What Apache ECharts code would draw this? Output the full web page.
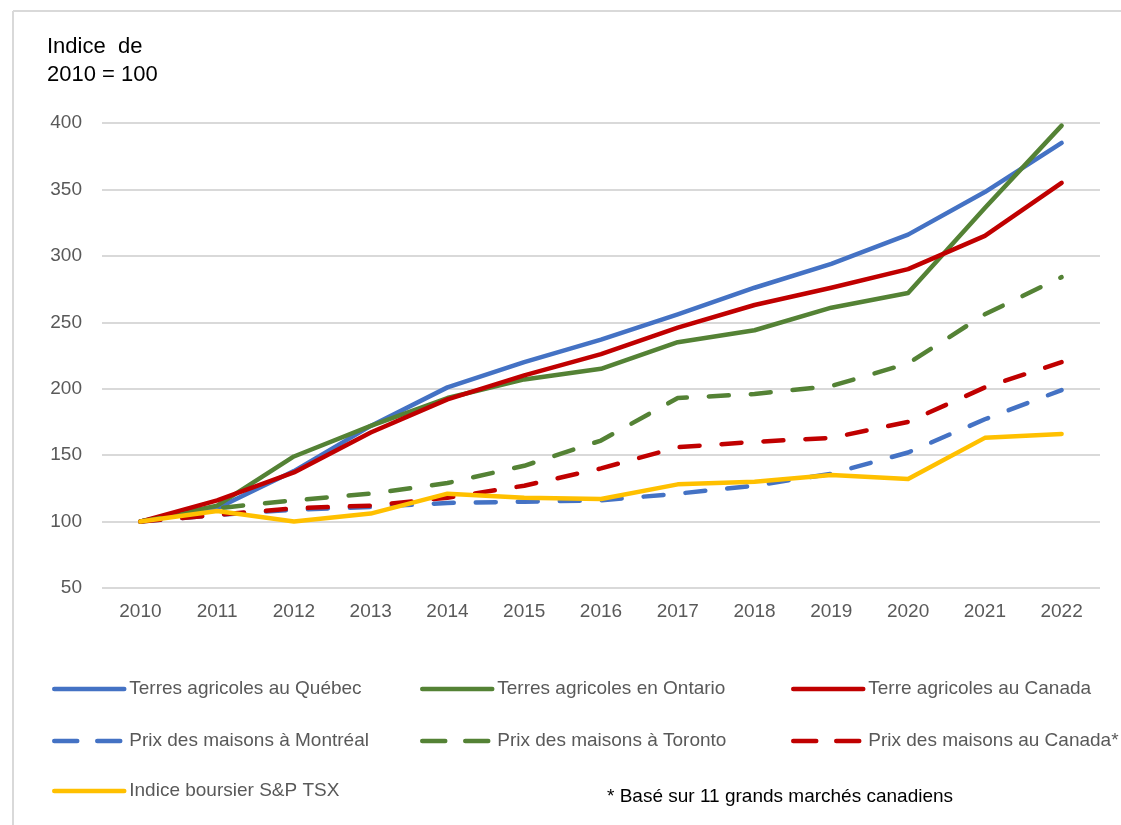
<!DOCTYPE html>
<html>
<head>
<meta charset="utf-8">
<script src="https://cdn.jsdelivr.net/npm/echarts@6/dist/echarts.min.js"></script>
<style>
html,body{margin:0;padding:0;background:#fff;}
#chart{width:1121px;height:825px;}
</style>
</head>
<body>
<div id="chart"></div>
<script>
const years = ['2010','2011','2012','2013','2014','2015','2016','2017','2018','2019','2020','2021','2022'];
const yTicks = [50, 400, 50]; // min, max, interval

const terresQuebec   = [100,110,138,172,201,220,237,256,276,294,316,348,385];
const terresOntario  = [100,112,149,172,193,207,215,235,244,261,272,336,398];
const terresCanada   = [100,116,137,167,192,210,226,246,263,276,290,315,355];
const maisonsMontreal= [100,105,109,111,114,115,116,121,127,136,152,177,199];
const maisonsToronto = [100,110,116,121,129,142,161,193,196,202,219,256,284];
const maisonsCanada  = [100,105,110,112,118,127,140,156,160,163,175,201,220];
const tsx            = [100,108,100,106,121,118,117,128,130,135,132,163,166];

const names = [
  'Terres agricoles au Québec',
  'Terres agricoles en Ontario',
  'Terre agricoles au Canada',
  'Prix des maisons à Montréal',
  'Prix des maisons à Toronto',
  'Prix des maisons au Canada*',
  'Indice boursier S&P TSX'
];
const colors = ['#4472C4','#548235','#C00000','#4472C4','#548235','#C00000','#FFC000'];
const dashed = [false,false,false,true,true,true,false];
const values = [terresQuebec,terresOntario,terresCanada,maisonsMontreal,maisonsToronto,maisonsCanada,tsx];

const FONT = 'Liberation Sans, Arial, sans-serif';

const series = names.map((n,i)=>({
  name:n, type:'line', data:values[i], symbol:'none', showSymbol:false, smooth:false,
  color:colors[i],
  lineStyle:{color:colors[i], width:4.5, type: dashed[i] ? [20,22] : 'solid', cap:'round', join:'round'},
  emphasis:{disabled:true}
}));

// legend placement (col x, row y)
const legendPos = [[52,689],[420,689],[791,689],[52,741],[420,741],[791,741],[52,791]];
const legends = names.map((n,i)=>({
  data:[n], left:legendPos[i][0], top:legendPos[i][1]-10, padding:0,
  itemWidth:70, itemHeight:14, itemGap:0, selectedMode:false,
  itemStyle:{opacity:0, borderWidth:0},
  textStyle:{fontFamily:FONT, fontSize:19, color:'#595959', lineHeight:20},
  lineStyle: {width:4.5, cap:'round', type: dashed[i] ? [23,20] : 'solid'}
}));

const chart = echarts.init(document.getElementById('chart'));
chart.setOption({
  backgroundColor:'#fff',
  animation:false,
  grid:{left:102, right:21, top:123, bottom:237, containLabel:false},
  xAxis:{
    type:'category', data:years, boundaryGap:true,
    axisLine:{show:false}, axisTick:{show:false},
    axisLabel:{fontFamily:FONT, fontSize:19, color:'#595959', margin:14}
  },
  yAxis:{
    type:'value', min:yTicks[0], max:yTicks[1], interval:yTicks[2],
    axisLine:{show:false}, axisTick:{show:false},
    axisLabel:{fontFamily:FONT, fontSize:19, color:'#595959', margin:20},
    splitLine:{lineStyle:{color:'#d9d9d9', width:2}}
  },
  legend:legends,
  series:series,
  graphic:[
    {type:'line', shape:{x1:13,y1:11,x2:1121,y2:11}, style:{stroke:'#d9d9d9', lineWidth:2}},
    {type:'line', shape:{x1:13,y1:11,x2:13,y2:825}, style:{stroke:'#d9d9d9', lineWidth:2}},
    {type:'text', left:47, top:33, style:{text:'Indice  de\n2010 = 100', fontFamily:FONT, fontSize:22, lineHeight:28, fill:'#000'}},
    {type:'text', left:607, top:787, style:{text:'* Basé sur 11 grands marchés canadiens', fontFamily:FONT, fontSize:19, fill:'#000'}}
  ]
});
</script>
</body>
</html>
